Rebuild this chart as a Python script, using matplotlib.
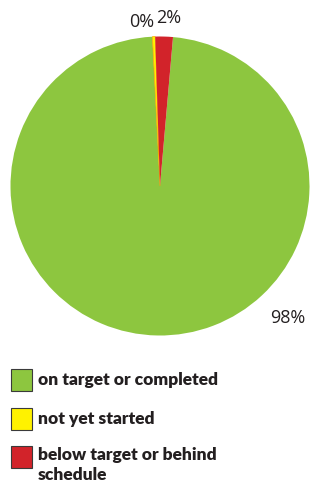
import matplotlib.pyplot as plt
from matplotlib.patches import Rectangle

# chart data
categories = ["on target or completed", "not yet started", "below target or behind\nschedule"]
shares = [97.8, 0.3, 1.9]
colors = ["#8dc63f", "#fff200", "#d2232a"]

W, H = 310, 483

fig = plt.figure(figsize=(W / 100, H / 100), dpi=100)
ax = fig.add_axes([0, 0, 1, 1])

# pie, clockwise from just right of 12 o'clock
wedges, _ = ax.pie(shares, colors=colors, startangle=85, counterclock=False,
                   center=(160, H - 186), radius=149.5,
                   wedgeprops=dict(linewidth=0), frame=True)
wedges[1].set_edgecolor("#f7a600")
wedges[1].set_linewidth(0.5)

# percent labels (placed by hand like the original)
label_pos = [(288, 318), (142, 22), (169, 18)]
for val, (x, y) in zip(shares, label_pos):
    ax.text(x, H - y, "%.0f%%" % val, ha="center", va="center",
            fontsize=13, color="#231f20", family="Open Sans")

# legend
leg_y = [380, 419, 457]
for cat, col, y in zip(categories, colors, leg_y):
    ax.add_patch(Rectangle((10.5, H - y - 11), 21.5, 22, facecolor=col,
                           edgecolor="#3a3a3a", linewidth=0.8))
    if "\n" in cat:
        ax.text(38, H - y + 10, cat, ha="left", va="top", fontsize=12.5,
                fontweight="heavy", color="#231f20", family="Lato",
                linespacing=1.3)
    else:
        ax.text(38, H - y, cat, ha="left", va="center", fontsize=12.5,
                fontweight="heavy", color="#231f20", family="Lato")

ax.set_xlim(0, W)
ax.set_ylim(0, H)
ax.set_aspect("auto")
ax.axis("off")

plt.savefig("out.png", dpi=100)
